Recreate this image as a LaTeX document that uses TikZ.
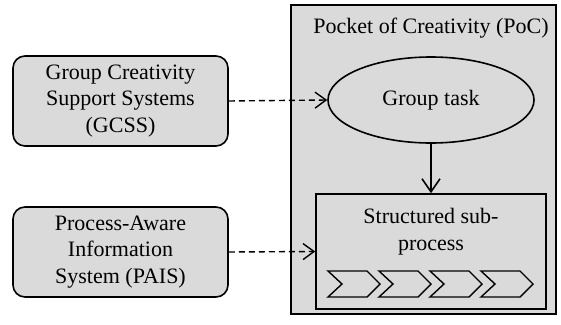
\documentclass[tikz,border=0pt]{standalone}
\usepackage{fontspec}
\setmainfont{Liberation Serif}
\usetikzlibrary{arrows.meta,shapes.geometric}
\definecolor{boxgray}{RGB}{218,218,218}
\tikzset{
  x=1pt, y=-1pt,
  every node/.style={font=\fontsize{22}{26.5}\selectfont, inner sep=0pt, align=center},
  sysbox/.style={draw, line width=1.6pt, fill=boxgray, rounded corners=12pt, minimum width=215pt, minimum height=90pt},
  pocbox/.style={draw, line width=1.6pt, fill=boxgray, minimum width=265pt, minimum height=309pt},
  taskell/.style={draw, line width=1.6pt, fill=boxgray, ellipse, minimum width=206pt, minimum height=86pt},
  subbox/.style={draw, line width=1.6pt, fill=boxgray, minimum width=230pt, minimum height=115pt},
  chev/.style={draw, line width=1.4pt, line join=miter},
  dasharrow/.style={line width=1.4pt, dash pattern=on 6pt off 4pt, -{Straight Barb[length=11pt,width=16pt,line width=1.4pt]}},
  solidarrow/.style={line width=1.6pt, -{Straight Barb[length=13pt,width=18pt,line width=1.6pt]}}
}
\begin{document}
\begin{tikzpicture}
\useasboundingbox (0,0) rectangle (561,324);
\node[pocbox] (poc) at (423.5,159.5) {};
\node (title) at (431,28) {Pocket of Creativity (PoC)};
\node[sysbox] (gcss) at (120.5,101) {Group Creativity\\Support Systems\\(GCSS)};
\node[sysbox] (pais) at (120.5,252) {Process-Aware\\Information\\System (PAIS)};
\node[taskell] (task) at (431,100) {Group task};
\node[subbox] (sub) at (431,251.5) {};
\node (subtext) at (431,231.5) {Structured sub-\\process};
\foreach \i in {0,1,2,3} {
  \draw[chev] (328+51*\i,271) -- ++(39,0) -- ++(13,13) -- ++(-13,13) -- ++(-39,0) -- ++(14,-13) -- cycle;
}
\draw[dasharrow] (gcss.east) -- (task.west);
\draw[dasharrow] (pais.east) -- (sub.west);
\draw[solidarrow] (task.south) -- (sub.north);
\end{tikzpicture}
\end{document}
